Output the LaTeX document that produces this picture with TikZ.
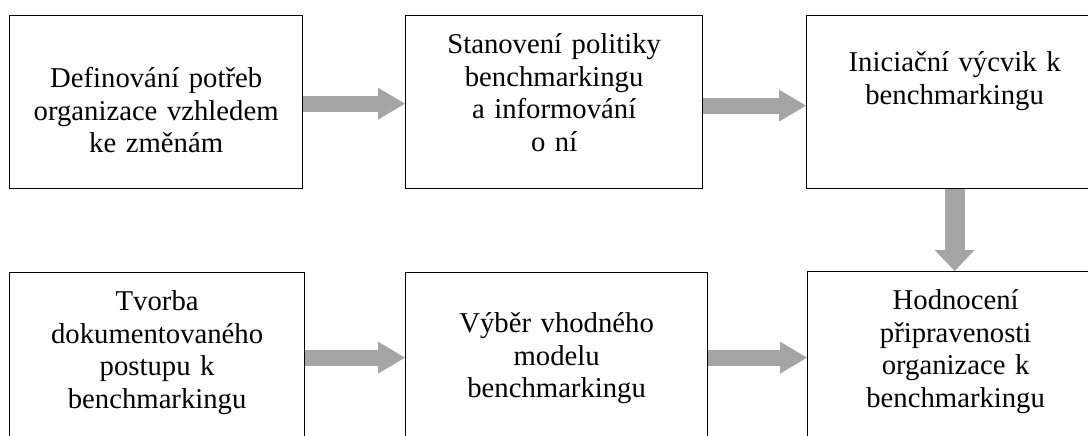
\documentclass[tikz,border=0pt]{standalone}
\usepackage{fontspec}
\setmainfont{Liberation Serif}
\usetikzlibrary{arrows.meta}
\definecolor{arrowgray}{HTML}{A5A5A5}
\tikzset{
  stage/.style={draw=black, line width=1.3pt, inner sep=0pt, align=center,
    anchor=north west, font=\fontsize{28.7}{32.5}\selectfont},
  flow/.style={arrowgray, line width=16pt,
    -{Triangle[length=27pt,width=32pt,line width=0pt]}},
  flowdown/.style={arrowgray, line width=20pt,
    -{Triangle[length=21pt,width=40pt,line width=0pt]}}
}
\begin{document}
\begin{tikzpicture}[x=1pt,y=-1pt]
			\useasboundingbox (0,0) rectangle (1088,436);
			\clip (0,0) rectangle (1088,436);

			\node[stage, text width=293pt, text height=72pt, text depth=101pt] (def) at (9,15)
				{Definování potřeb\\organizace vzhledem\\ke změnám};
			\node[stage, text width=297pt, text height=38pt, text depth=135pt] (pol) at (405,15)
				{Stanovení politiky\\benchmarkingu\\a informování\\o ní};
			\node[stage, text width=296pt, text height=56pt, text depth=117pt] (vyc) at (806,15)
				{Iniciační výcvik k\\benchmarkingu};

			\node[stage, text width=295pt, text height=38pt, text depth=135pt] (tvo) at (9,272)
				{Tvorba\\dokumentovaného\\postupu k\\benchmarkingu};
			\node[stage, text width=302pt, text height=60pt, text depth=113pt] (mod) at (405,272)
				{Výběr vhodného\\modelu\\benchmarkingu};
			\node[stage, text width=296pt, text height=38pt, text depth=135pt] (hod) at (807,271)
				{Hodnocení\\připravenosti\\organizace k\\benchmarkingu};

			\draw [flow] ([yshift=-1.5pt]def.east) -- ([yshift=-1.5pt]def.east -| pol.west);
			\draw [flow] ([yshift=-3.5pt]pol.east) -- ([yshift=-3.5pt]pol.east -| vyc.west);
			\draw [flowdown] (vyc.south) -- (vyc.south |- hod.north);
			\draw [flow] ([yshift=1.5pt]tvo.east) -- ([yshift=1.5pt]tvo.east -| mod.west);
			\draw [flow] ([yshift=1.5pt]mod.east) -- ([yshift=1.5pt]mod.east -| hod.west);

		\end{tikzpicture}
\end{document}
